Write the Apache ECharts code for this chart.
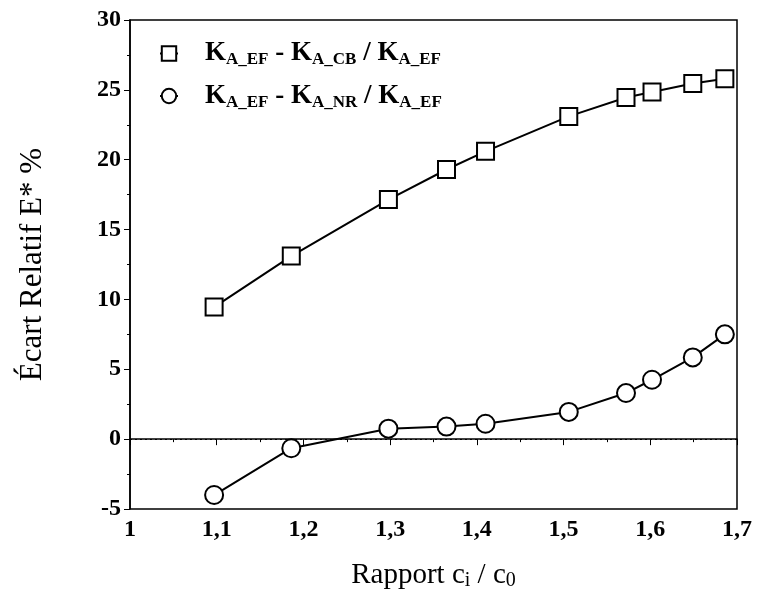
<!DOCTYPE html>
<html>
<head>
<meta charset="utf-8">
<script src="https://cdn.jsdelivr.net/npm/echarts@6/dist/echarts.min.js"></script>
<style>
  html, body { margin: 0; padding: 0; background: #fff; }
  #main { width: 757px; height: 606px; }
</style>
</head>
<body>
<div id="main"></div>
<script>
// rapport ci/c0
var ratios = [1.097, 1.186, 1.298, 1.365, 1.41, 1.506, 1.572, 1.602, 1.649, 1.686];
// KA_EF - KA_CB / KA_EF
var ecartCB = [9.45, 13.1, 17.15, 19.3, 20.6, 23.1, 24.45, 24.85, 25.45, 25.8];
// KA_EF - KA_NR / KA_EF
var ecartNR = [-4.0, -0.65, 0.75, 0.9, 1.1, 1.95, 3.3, 4.25, 5.85, 7.5];
var seriesNames = ['CB', 'NR'];

var font = 'Liberation Serif';
function pairs(ys) {
    return ratios.map(function (x, i) { return [x, ys[i]]; });
}
var richLegend = {
    m: { fontFamily: font, fontSize: 27, fontWeight: 'bold', color: '#000', lineHeight: 30 },
    s: { fontFamily: font, fontSize: 17, fontWeight: 'bold', color: '#000', lineHeight: 16, verticalAlign: 'bottom' }
};

var chart = echarts.init(document.getElementById('main'));
var option = {
    animation: false,
    backgroundColor: '#fff',
    grid: {
        left: 130, right: 20, top: 20, bottom: 97,
        show: true, borderColor: '#000', borderWidth: 1.5
    },
    legend: {
        orient: 'vertical',
        left: 154, top: 35,
        itemGap: 14,
        itemWidth: 18, itemHeight: 18,
        data: seriesNames,
        formatter: function (name) {
            return '{m|K}{s|A_EF}{m| - K}{s|A_' + name + '}{m| / K}{s|A_EF}';
        },
        textStyle: { rich: richLegend, padding: [0, 0, 0, 22] }
    },
    xAxis: {
        type: 'value',
        min: 1, max: 1.7, interval: 0.1,
        name: '{m|Rapport c}{s|i}{m| / c}{s|0}',
        nameLocation: 'middle',
        nameGap: 50,
        nameTextStyle: {
            rich: {
                m: { fontFamily: font, fontSize: 29, color: '#000', lineHeight: 32 },
                s: { fontFamily: font, fontSize: 20, color: '#000', lineHeight: 19, verticalAlign: 'bottom' }
            }
        },
        axisLine: { lineStyle: { color: '#000', width: 1.5 } },
        axisTick: { length: 6, lineStyle: { color: '#000' } },
        minorTick: { show: true, splitNumber: 2, length: 3, lineStyle: { color: '#000' } },
        splitLine: { show: false },
        axisLabel: {
            fontFamily: font, fontSize: 24, fontWeight: 'bold', color: '#000', margin: 9,
            formatter: function (v) { return String(Math.round(v * 10) / 10).replace('.', ','); }
        }
    },
    yAxis: {
        type: 'value',
        min: -5, max: 30, interval: 5,
        name: 'Écart Relatif E* %',
        nameLocation: 'middle',
        nameGap: 82,
        nameTextStyle: { fontFamily: font, fontSize: 31, color: '#000' },
        axisLine: { show: true, lineStyle: { color: '#000', width: 1.5 } },
        axisTick: { show: true, length: 6, lineStyle: { color: '#000' } },
        minorTick: { show: true, splitNumber: 2, length: 3, lineStyle: { color: '#000' } },
        splitLine: { show: false },
        axisLabel: { fontFamily: font, fontSize: 24, fontWeight: 'bold', color: '#000', margin: 9 }
    },
    series: [
        {
            name: 'CB',
            type: 'line',
            data: pairs(ecartCB),
            symbol: 'rect',
            symbolSize: 17,
            lineStyle: { color: '#000', width: 2 },
            itemStyle: { color: '#fff', borderColor: '#000', borderWidth: 2 }
        },
        {
            name: 'NR',
            type: 'line',
            data: pairs(ecartNR),
            symbol: 'circle',
            symbolSize: 18,
            lineStyle: { color: '#000', width: 2 },
            itemStyle: { color: '#fff', borderColor: '#000', borderWidth: 2 },
            markLine: {
                silent: true,
                symbol: 'none',
                label: { show: false },
                lineStyle: { color: '#000', type: [2, 3], width: 1 },
                data: [{ yAxis: 0 }]
            }
        }
    ]
};
chart.setOption(option);
</script>
</body>
</html>
